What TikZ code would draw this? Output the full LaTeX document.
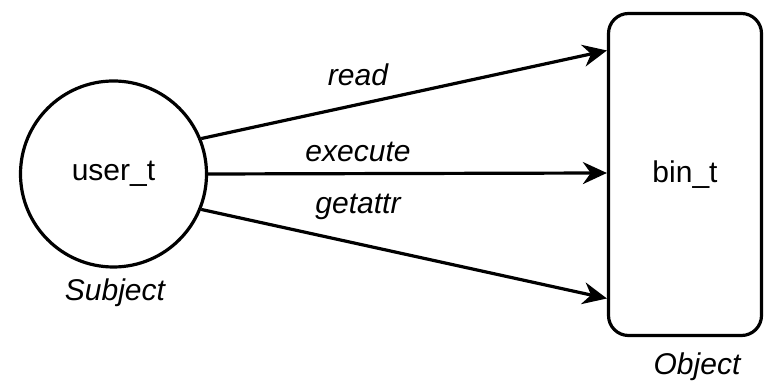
\documentclass[tikz,border=0pt]{standalone}
\usepackage{fontspec}
\setmainfont{Liberation Sans}
\usetikzlibrary{arrows.meta}
\begin{document}
\begin{tikzpicture}[x=0.5pt,y=-0.5pt,
		every node/.style={font=\fontsize{15}{18}\selectfont},
		perm/.style={line width=1.6pt,-{Stealth[length=12pt,width=11pt]}},
		role/.style={font=\fontsize{15}{18}\selectfont\itshape}]
		\useasboundingbox (0,0) rectangle (765,383);
		\node[circle,draw,line width=1.6pt,minimum size=93pt,inner sep=0pt] (user) at (113.5,174) {user\_t};
		\node[rectangle,draw,rounded corners=10pt,line width=1.6pt,minimum width=76.5pt,minimum height=161pt] (bin) at (685,174.5) {bin\_t};
		\draw[perm] (user.22) -- ([yshift=62pt]bin.west);
		\draw[perm] (user.east) -- ([yshift=0.75pt]bin.west);
		\draw[perm] (user.-22) -- ([yshift=-62pt]bin.west);
		\node[role] (read) at (358,75) {read};
		\node[role] (execute) at (358,152) {execute};
		\node[role] (getattr) at (358,207) {getattr};
		\node[role] (subject) at (115,293) {Subject};
		\node[role] (object) at (697,367) {Object};
	\end{tikzpicture}
\end{document}
